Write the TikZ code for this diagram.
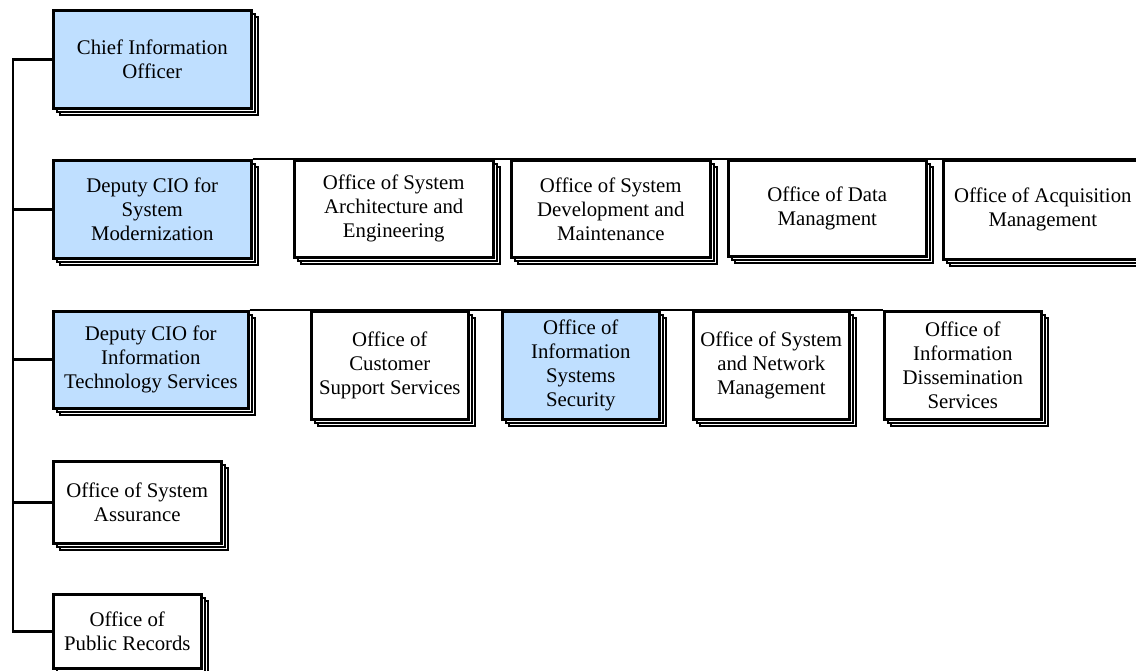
\documentclass[tikz,border=0pt]{standalone}
\usepackage{fontspec}
\setmainfont{Liberation Serif}
\usetikzlibrary{shadows}
\definecolor{cio-blue}{RGB}{191,223,255}
\tikzset{
    office-box/.style = {draw=black, fill=white, line width=2.6pt, rectangle, inner sep=0pt, anchor=north west, align=center, font=\fontsize{20.8}{24}\selectfont,
        general shadow={shadow xshift=7pt, shadow yshift=-7pt, draw=black, fill=white, line width=2pt},
        general shadow={shadow xshift=3.5pt, shadow yshift=-3.5pt, draw=black, fill=white, line width=2pt}},
    office-box-blue/.style = {office-box, fill=cio-blue},
    org-line/.style = {draw=black, line width=2.8pt},
}

\begin{document}
\begin{tikzpicture}[x=1pt, y=-1pt]
\useasboundingbox (0,0) rectangle (1136,670);

\node[office-box-blue, minimum width=198pt, minimum height=98pt] (cio) at (52,9) {Chief Information\\Officer};

\node[office-box-blue, minimum width=198pt, minimum height=98pt] (sysmod) at (52,159) {Deputy CIO for\\System\\Modernization};
\node[office-box, minimum width=199pt, minimum height=97pt] (arch) at (293,159) {Office of System\\Architecture and\\Engineering};
\node[office-box, minimum width=199pt, minimum height=97pt] (devmaint) at (510,159) {Office of System\\Development and\\Maintenance};
\node[office-box, minimum width=198pt, minimum height=96pt] (data) at (727,159) {Office of Data\\Managment};
\node[office-box, minimum width=199pt, minimum height=99pt] (acq) at (942,159) {Office of Acquisition\\Management};

\node[office-box-blue, minimum width=195pt, minimum height=97pt] (itsvc) at (52,310) {Deputy CIO for\\Information\\Technology Services};
\node[office-box, minimum width=157pt, minimum height=108pt] (custsup) at (310,310) {Office of\\Customer\\Support Services};
\node[office-box-blue, minimum width=157pt, minimum height=108pt] (infosec) at (501,310) {Office of\\Information\\Systems\\Security};
\node[office-box, minimum width=156pt, minimum height=108pt] (netmgmt) at (692,310) {Office of System\\and Network\\Management};
\node[office-box, minimum width=157pt, minimum height=108pt] (dissem) at (883,310) {Office of\\Information\\Dissemination\\Services};

\node[office-box, minimum width=168pt, minimum height=82pt] (assur) at (52,460) {Office of System\\Assurance};
\node[office-box, minimum width=148pt, minimum height=74pt] (pubrec) at (52,593) {Office of\\Public Records};

\draw[org-line] (cio.west) -- ++(-39,0) coordinate (spine) |- (pubrec.west);
\foreach \n in {sysmod,itsvc,assur}
    \draw[org-line] (\n.west) -- (\n.west -| spine);
\draw[org-line] (sysmod.north east) -- (acq.north east);
\draw[org-line] (itsvc.north east) -- (dissem.north west);
\end{tikzpicture}
\end{document}
